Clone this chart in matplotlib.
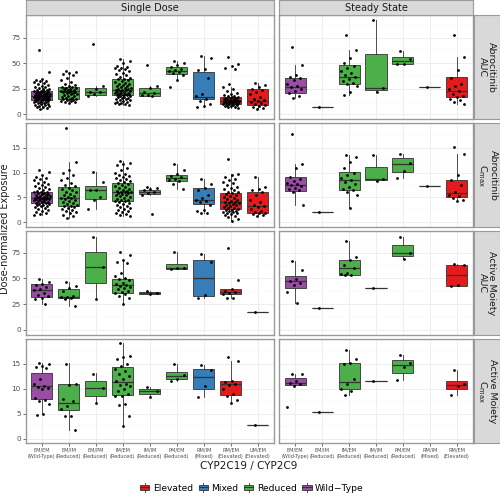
import matplotlib
matplotlib.use("Agg")
import matplotlib.pyplot as plt
from matplotlib.patches import Rectangle, Patch
from matplotlib.lines import Line2D
from matplotlib.legend_handler import HandlerBase

# ---------------- data ----------------
sd_categories = ["EM/EM\n(Wild-Type)", "EM/IM\n(Reduced)", "EM/PM\n(Reduced)", "IM/EM\n(Reduced)",
                 "IM/IM\n(Reduced)", "PM/EM\n(Reduced)", "RM/IM\n(Mixed)", "RM/EM\n(Elevated)",
                 "UM/EM\n(Elevated)"]
sd_groups = ["Wild-Type", "Reduced", "Reduced", "Reduced", "Reduced", "Reduced", "Mixed",
             "Elevated", "Elevated"]
ss_categories = ["EM/EM\n(Wild-Type)", "EM/IM\n(Reduced)", "IM/EM\n(Reduced)", "IM/IM\n(Reduced)",
                 "PM/EM\n(Reduced)", "RM/IM\n(Mixed)", "RM/EM\n(Elevated)"]
ss_groups = ["Wild-Type", "Reduced", "Reduced", "Reduced", "Reduced", "Mixed", "Elevated"]

columns = ["Single Dose", "Steady State"]
row_labels = ["Abrocitinib\nAUC", "Abrocitinib\nC$_{\\mathregular{max}}$",
              "Active Moiety\nAUC", "Active Moiety\nC$_{\\mathregular{max}}$"]
legend_labels = ["Elevated", "Mixed", "Reduced", "Wild\u2212Type"]

# box stats: (q1, median, q3, whisker low, whisker high)
sd_auc_stats = [(13.7, 17.9, 22.8, 5, 35), (15.3, 22.5, 26.4, 11, 41.7), (18.6, 21.8, 26, 17.5, 27.5),
                (18.9, 23.8, 34.3, 9, 54), (18.2, 20.6, 25.8, 18, 28), (39.8, 42.4, 46.6, 34, 52),
                (14.7, 17.2, 41.7, 7, 57), (10.1, 13.3, 17.2, 6, 27), (8.8, 13.3, 24.5, 5, 30.4)]
sd_auc_pts = [
    [63, 41, 35, 34, 33, 33, 32, 31, 30, 29, 28, 27, 27, 26, 25, 25, 24, 24, 23, 23, 23, 22, 22, 22,
     21, 21, 21, 20, 20, 20, 20, 19, 19, 19, 19, 18, 18, 18, 18, 18, 17, 17, 17, 17, 16, 16, 16, 16,
     15, 15, 15, 15, 14, 14, 14, 14, 13, 13, 13, 12, 12, 12, 11, 11, 10, 10, 9, 9, 8, 8, 7, 7, 6, 5],
    [42, 41, 40, 39, 38, 36, 34, 32, 30, 29, 28, 27, 27, 26, 26, 25, 25, 24, 24, 23, 23, 23, 22, 22,
     22, 21, 21, 20, 20, 19, 18, 18, 17, 16, 16, 15, 15, 15, 14, 14, 13, 13, 12, 12, 11],
    [68.5, 27.5, 25, 22, 21.8, 20, 17.5],
    [54, 52, 50, 47, 46, 45, 45, 44, 43, 42, 40, 39, 38, 37, 36, 35, 35, 34, 33, 32, 31, 30, 30, 29,
     28, 28, 27, 26, 26, 25, 25, 24, 24, 24, 23, 23, 22, 22, 21, 21, 21, 20, 20, 20, 19, 19, 19, 18,
     18, 17, 17, 16, 16, 15, 15, 14, 14, 13, 12, 12, 11, 11, 10, 10, 9],
    [48.5, 28, 26, 22, 20.6, 19, 18.5, 18],
    [52, 50, 48, 46, 44, 43, 42.4, 41, 40, 38, 34, 26.5],
    [57, 55, 44, 43, 36, 20, 18, 15, 13, 10, 8, 7],
    [56, 49, 47, 45, 44, 30, 27, 25, 23, 21, 20, 19, 18, 18, 17, 17, 16, 16, 16, 15, 15, 15, 14, 14,
     14, 14, 13, 13, 13, 13, 12, 12, 12, 12, 11, 11, 11, 11, 10, 10, 10, 9, 9, 9, 8, 8, 7, 7, 6],
    [30.4, 29, 27, 25, 24, 22, 20, 17, 15, 14, 13.3, 12, 11, 10, 9, 8, 7, 6, 5],
]
ss_auc_stats = [(21.2, 26.4, 35.5, 16, 48), (6.9, 6.9, 6.9, 6.9, 6.9), (29.7, 36.8, 48, 19, 63),
                (23.5, 25.5, 59, 21.5, 92.3), (49.3, 51.9, 56.1, 48.8, 62), (26.4, 26.4, 26.4, 26.4, 26.4),
                (16.9, 22.5, 36.5, 10, 56.4)]
ss_auc_pts = [
    [65.6, 48, 38, 37, 36, 34, 30, 28, 26.4, 25, 23, 21, 18, 16],
    [6.9],
    [77.3, 63, 55, 50, 47, 45, 42, 40, 38, 36.8, 35, 33, 31, 30, 28, 22, 19],
    [92.3, 25.5, 21.5],
    [62, 53.8, 49.5, 48.8],
    [26.4],
    [78, 56.4, 43, 36, 30, 28, 25, 22.5, 20, 18, 17, 15, 14, 12, 10],
]

sd_cmax_stats = [(3.8, 4.8, 6.1, 1.5, 9.5), (3.3, 4.9, 7.1, 0.8, 12.2), (4.6, 6.6, 7.4, 2.6, 10.2),
                 (4.3, 6.1, 8.0, 1.3, 12.3), (5.6, 6.1, 6.6, 5.5, 7.2), (8.3, 9.0, 9.6, 6.8, 11.7),
                 (3.6, 4.5, 7.0, 1.8, 8.8), (2.6, 4.0, 5.8, 0.3, 9.8), (1.9, 3.3, 6.2, 1.2, 9.2)]
sd_cmax_pts = [
    [10.6, 10.2, 9.5, 9.2, 9, 8.8, 8.5, 8.2, 8, 7.8, 7.6, 7.4, 7.2, 7, 6.8, 6.6, 6.4, 6.2, 6.1, 6,
     5.9, 5.8, 5.7, 5.6, 5.5, 5.4, 5.3, 5.2, 5.1, 5, 5, 4.9, 4.9, 4.8, 4.8, 4.7, 4.7, 4.6, 4.6, 4.5,
     4.4, 4.3, 4.2, 4.1, 4, 3.9, 3.8, 3.7, 3.6, 3.5, 3.4, 3.3, 3.2, 3, 2.8, 2.6, 2.4, 2.2, 2, 1.8,
     1.6, 1.5],
    [19, 12.2, 10.5, 10, 9.5, 9, 8.5, 8, 7.6, 7.3, 7, 6.8, 6.5, 6.2, 6, 5.7, 5.5, 5.2, 5, 4.9, 4.8,
     4.6, 4.4, 4.2, 4, 3.8, 3.6, 3.4, 3.3, 3.2, 3, 2.8, 2.6, 2.4, 2.2, 2, 1.8, 1.5, 1.2, 0.8],
    [10.2, 8.2, 6.6, 6.5, 5, 4.4, 2.6],
    [12.3, 12, 11.8, 11.5, 11, 10.5, 10, 9.8, 9.5, 9.4, 9.2, 9, 8.8, 8.6, 8.4, 8.2, 8, 7.8, 7.6,
     7.4, 7.2, 7, 6.8, 6.6, 6.4, 6.3, 6.2, 6.1, 6, 5.9, 5.8, 5.6, 5.5, 5.4, 5.2, 5, 4.8, 4.6, 4.5,
     4.4, 4.3, 4.2, 4, 3.8, 3.6, 3.4, 3.2, 3, 2.8, 2.6, 2.4, 2.2, 2, 1.8, 1.6, 1.4, 1.3],
    [7.2, 7, 6.8, 6.5, 6.1, 5.8, 5.5, 1.7],
    [11.7, 10.6, 9.8, 9.4, 9.2, 8.8, 8.6, 8.3, 7.8, 6.8],
    [8.8, 7.8, 7, 6.5, 5.5, 4.8, 4.5, 4.3, 4, 3.5, 2.5, 2.2, 1.9, 1.8],
    [12.8, 9.8, 9.5, 9.2, 8.8, 8.5, 8.2, 8, 7.6, 7.2, 7, 6.8, 6.5, 6.2, 6, 5.8, 5.6, 5.4, 5.2, 5,
     4.8, 4.6, 4.4, 4.2, 4, 4, 3.9, 3.8, 3.6, 3.5, 3.4, 3.2, 3, 2.9, 2.8, 2.6, 2.5, 2.4, 2.3, 2.2,
     2.1, 2, 1.9, 1.8, 1.6, 1.4, 1.2, 1, 0.6, 0.3],
    [9.2, 7.2, 6.8, 6.5, 6, 5.5, 4.5, 4, 3.5, 3.3, 3, 2.6, 2.3, 2, 1.9, 1.8, 1.6, 1.4, 1.2],
]
ss_cmax_stats = [(6.3, 7.6, 9.05, 3.5, 11.8), (2.07, 2.07, 2.07, 2.07, 2.07), (6.6, 8.6, 10.1, 2.9, 13.6),
                 (8.45, 8.65, 11.1, 8.3, 13.5), (10.1, 11.7, 13.0, 8.85, 13.7), (7.4, 7.4, 7.4, 7.4, 7.4),
                 (5.1, 5.8, 8.6, 4.2, 13.7)]
ss_cmax_pts = [
    [17.8, 11.8, 11, 9.2, 8.8, 8.4, 8, 7.8, 7.6, 7.3, 7, 6.8, 6.5, 6.2, 3.5],
    [2.07],
    [13.6, 13.2, 12.2, 11, 10, 9.5, 9, 8.6, 8.2, 7.8, 7.2, 6.8, 6.5, 6, 5.5, 2.9],
    [13.5, 8.65, 8.3],
    [13.7, 12.0, 10.3, 8.9],
    [7.4],
    [15.2, 13.8, 9.5, 8.6, 7.5, 6, 5.5, 5.2, 4.8, 4.5, 4.2],
]

sd_am_auc_stats = [(32.3, 38.5, 44.9, 24.9, 49.5), (31, 31.7, 40, 23, 46.2), (45.6, 60.8, 75.6, 30.4, 90.4),
                   (36.2, 44, 49.8, 24.9, 68), (34.9, 36.2, 37.2, 34.5, 37.5), (59.5, 60.4, 64.3, 59.5, 75.6),
                   (32.7, 50.1, 68.2, 31, 73.7), (34.6, 37.2, 39.5, 31, 39.5), (17.7, 17.7, 17.7, 17.7, 17.7)]
sd_am_auc_pts = [
    [49.5, 47, 45, 44, 42, 40, 38.5, 36, 34, 33, 31, 30, 24.9],
    [46.2, 43, 41, 38, 33, 32, 31.7, 31, 30, 23],
    [90.4, 60.8, 30.4],
    [75.6, 73, 68, 66, 65, 55, 52, 50, 49, 48, 46, 45, 44, 43, 42, 41, 40, 38, 37, 36, 35, 33, 31, 25],
    [37.5, 36.2, 34.5],
    [75.6, 60.5, 60, 59.5],
    [73.7, 66, 33.5, 31],
    [79.5, 48.5, 39.5, 38, 37, 36, 35, 31, 31],
    [17.7],
]
ss_am_auc_stats = [(40.7, 47.2, 52.4, 25.9, 66.6), (21.3, 21.3, 21.3, 21.3, 21.3), (53, 60.1, 67.9, 53, 86.6),
                   (41, 41, 41, 41, 41), (71.8, 75, 82.1, 68.6, 90), None, (43, 53.3, 62.7, 42.8, 63.6)]
ss_am_auc_pts = [
    [66.6, 58, 49, 47.2, 46, 44, 37, 25.9],
    [21.3],
    [86.6, 71, 68, 63, 60.1, 55, 54, 53.5, 53],
    [41],
    [90, 75, 68.6],
    [],
    [63.6, 63, 43.2, 42.8],
]

sd_am_cmax_stats = [(7.9, 10.5, 13.1, 4.9, 15.2), (5.7, 7.2, 10.9, 1.7, 15.1), (8.6, 10.1, 11.6, 7.2, 13.1),
                    (8.7, 11.3, 14.3, 2.5, 19.1), (8.9, 9.5, 10.0, 8.3, 10.4), (11.9, 12.5, 13.4, 11.6, 15.0),
                    (10, 12.4, 13.9, 8.3, 14.7), (8.7, 10.9, 11.5, 7.1, 15.5), (2.7, 2.7, 2.7, 2.7, 2.7)]
sd_am_cmax_pts = [
    [15.2, 15, 14.6, 14.4, 14.2, 12, 11, 10.5, 10.4, 10.2, 10, 8.1, 7.8, 7.5, 7, 4.9, 4.8],
    [15, 11, 10.8, 8, 7.5, 6.5, 6, 4.6, 4.5, 1.7],
    [13.0, 10.1, 7.2],
    [19.1, 16.6, 16.3, 16, 15, 14.5, 14, 13.5, 13, 12.5, 12, 11.5, 11, 10.8, 10.5, 10, 9.5, 9, 8.6,
     8.5, 7, 6.8, 4.6, 2.5],
    [10.4, 9.5, 8.3],
    [15.0, 12.8, 12.0, 11.6],
    [14.7, 13.7, 10.6, 8.3],
    [16.3, 15.5, 11.5, 11.3, 11, 10.7, 10, 9, 8.5, 7.8, 7.1],
    [2.7],
]
ss_am_cmax_stats = [(10.7, 11.2, 12.1, 10.5, 12.9), (5.4, 5.4, 5.4, 5.4, 5.4), (9.9, 11.3, 15.1, 8.7, 17.7),
                    (11.6, 11.6, 11.6, 11.6, 11.6), (13.2, 14.7, 15.7, 11.7, 16.7), None,
                    (9.9, 10.7, 11.6, 8.8, 13.7)]
ss_am_cmax_pts = [
    [12.9, 12.9, 11.5, 11.2, 11, 10.5, 6.4],
    [5.4],
    [17.7, 16, 15.2, 15, 12, 11, 10, 9.5, 8.7],
    [11.6],
    [16.7, 15.2, 14.4, 11.7],
    [],
    [13.7, 10.9, 10.5, 8.8],
]

y_ticks = [[0, 25, 50, 75], [0, 5, 10, 15], [0, 25, 50, 75], [0, 5, 10, 15]]

# ---------------- style ----------------
COLORS = {"Elevated": "#E41A1C", "Mixed": "#377EB8", "Reduced": "#4DAF4A", "Wild-Type": "#984EA3"}
LEG_COLORS = ["#E41A1C", "#377EB8", "#4DAF4A", "#984EA3"]
Y_LIMS = [(-4.6, 97.2), (-0.95, 20.0), (-4.85, 96.0), (-0.86, 19.9)]
EDGE = "#333333"
BORDER = "#9A9A9A"
STRIP = "#D9D9D9"

W, H = 500, 498
fig = plt.figure(figsize=(W / 100, H / 100), dpi=100)


def ax_px(x0, y0, x1, y1):
    return fig.add_axes([x0 / W, 1 - y1 / H, (x1 - x0) / W, (y1 - y0) / H])


col_px = [(25.5, 274), (279, 473)]
row_px = [(15, 119), (123, 227), (231, 335), (339, 443)]

panels = [
    [(sd_auc_stats, sd_auc_pts), (ss_auc_stats, ss_auc_pts)],
    [(sd_cmax_stats, sd_cmax_pts), (ss_cmax_stats, ss_cmax_pts)],
    [(sd_am_auc_stats, sd_am_auc_pts), (ss_am_auc_stats, ss_am_auc_pts)],
    [(sd_am_cmax_stats, sd_am_cmax_pts), (ss_am_cmax_stats, ss_am_cmax_pts)],
]
col_cats = [sd_categories, ss_categories]
col_groups = [sd_groups, ss_groups]


def draw_panel(ax, stats, pts, groups):
    bx, pos, cols = [], [], []
    for i, (s, g) in enumerate(zip(stats, groups)):
        if s is None:
            continue
        q1, med, q3, lo, hi = s
        bx.append(dict(q1=q1, med=med, q3=q3, whislo=lo, whishi=hi, fliers=[]))
        pos.append(i)
        cols.append(COLORS[g])
    art = ax.bxp(bx, positions=pos, widths=0.78, patch_artist=True, showfliers=False,
                 showcaps=False, manage_ticks=False,
                 boxprops=dict(edgecolor=EDGE, linewidth=0.6),
                 medianprops=dict(color=EDGE, linewidth=0.9),
                 whiskerprops=dict(color=EDGE, linewidth=0.6), zorder=2)
    for patch, c in zip(art["boxes"], cols):
        patch.set_facecolor(c)
    for i, vals in enumerate(pts):
        xs = [i + (((k + 0.5) * 0.6180339887) % 1.0 - 0.5) * 0.6 for k in range(len(vals))]
        ax.scatter(xs, vals, s=4, c="black", linewidths=0, zorder=3)


for r, (ry0, ry1) in enumerate(row_px):
    for c, (cx0, cx1) in enumerate(col_px):
        ax = ax_px(cx0, ry0, cx1, ry1)
        stats, pts = panels[r][c]
        n = len(col_cats[c])
        draw_panel(ax, stats, pts, col_groups[c])
        ax.set_xlim(-0.6, n - 0.4)
        ax.set_ylim(*Y_LIMS[r])
        ax.set_xticks(range(n))
        ax.set_yticks(y_ticks[r])
        t = y_ticks[r]
        step = t[1] - t[0]
        ax.set_yticks([v + step / 2 for v in t], minor=True)
        ax.set_axisbelow(True)
        ax.grid(which="major", color="#EBEBEB", linewidth=0.6)
        ax.grid(which="minor", axis="y", color="#F4F4F4", linewidth=0.35)
        ax.tick_params(which="minor", length=0)
        ax.tick_params(which="major", length=2, width=0.5, color=EDGE, labelsize=5.2,
                       labelcolor="#4D4D4D", pad=1.5)
        for sp in ax.spines.values():
            sp.set_color(BORDER)
            sp.set_linewidth(1.0)
        if c == 1:
            ax.tick_params(left=False, labelleft=False)
        if r < 3:
            ax.tick_params(bottom=False, labelbottom=False)
        else:
            ax.set_xticklabels(col_cats[c], fontsize=3.6, color="#4D4D4D", linespacing=1.3)
        # top strips
        if r == 0:
            sax = ax_px(cx0, 0.5, cx1, 15)
            sax.set_xticks([])
            sax.set_yticks([])
            sax.set_facecolor(STRIP)
            for sp in sax.spines.values():
                sp.set_color(BORDER)
                sp.set_linewidth(0.8)
            sax.text(0.5, 0.5, columns[c], ha="center", va="center", fontsize=7,
                     color="#1A1A1A", transform=sax.transAxes)
    # right strips
    rax = ax_px(474, ry0, 499.5, ry1)
    rax.set_xticks([])
    rax.set_yticks([])
    rax.set_facecolor(STRIP)
    for sp in rax.spines.values():
        sp.set_color(BORDER)
        sp.set_linewidth(0.8)
    rax.text(0.5, 0.5, row_labels[r], ha="center", va="center", rotation=-90, fontsize=6.8,
             color="#1A1A1A", transform=rax.transAxes, linespacing=1.0)

fig.text(5 / W, 1 - 229 / H, "Dose-normalized Exposure", rotation=90, ha="center", va="center",
         fontsize=7.0, color="#1A1A1A")
fig.text(249 / W, 1 - 466 / H, "CYP2C19 / CYP2C9", ha="center", va="center", fontsize=7.5,
         color="#1A1A1A")


class BoxHandler(HandlerBase):
    def create_artists(self, legend, orig_handle, xdescent, ydescent, width, height,
                       fontsize, trans):
        x0, y0 = -xdescent, -ydescent
        col = orig_handle.get_facecolor()
        rect = Rectangle((x0, y0 + height * 0.2), width, height * 0.6, facecolor=col,
                         edgecolor=EDGE, linewidth=0.6, transform=trans)
        med = Line2D([x0, x0 + width], [y0 + height * 0.5] * 2, color=EDGE, lw=0.8,
                     transform=trans)
        w1 = Line2D([x0 + width / 2] * 2, [y0 - height * 0.05, y0 + height * 0.2], color=EDGE,
                    lw=0.6, transform=trans)
        w2 = Line2D([x0 + width / 2] * 2, [y0 + height * 0.8, y0 + height * 1.05], color=EDGE,
                    lw=0.6, transform=trans)
        return [rect, med, w1, w2]


handles = [Patch(facecolor=cc, edgecolor=EDGE) for cc in LEG_COLORS]
fig.legend(handles, legend_labels, loc="center", bbox_to_anchor=(252 / W, 1 - 488 / H),
           ncol=4, frameon=False, fontsize=6.6, handlelength=1.0, handleheight=1.0,
           handletextpad=0.4, columnspacing=0.6,
           handler_map={Patch: BoxHandler()})

fig.savefig("out.png", dpi=100)
